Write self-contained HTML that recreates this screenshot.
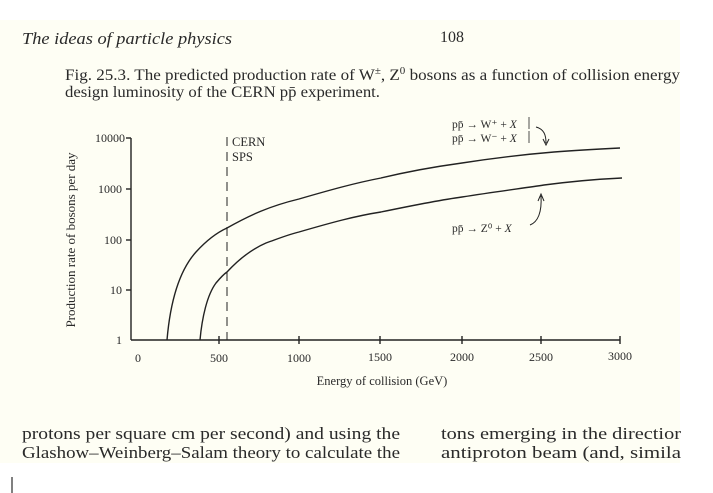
<!DOCTYPE html>
<html><head><meta charset="utf-8"><style>
html,body{margin:0;padding:0;background:#fff;}
svg{display:block;}
text{font-family:"Liberation Serif",serif;fill:#2a2a2a;}
</style></head><body>
<svg width="713" height="493" viewBox="0 0 713 493" xmlns="http://www.w3.org/2000/svg">
<rect x="0" y="20" width="680" height="443" fill="#fefef4"/>
<text x="22" y="44" font-size="16.5" font-style="italic" textLength="210" lengthAdjust="spacingAndGlyphs">The ideas of particle physics</text>
<text x="440" y="42" font-size="16">108</text>
<text x="65" y="80" font-size="15.5" textLength="615" lengthAdjust="spacingAndGlyphs">Fig. 25.3. The predicted production rate of W<tspan font-size="10" dy="-6">±</tspan><tspan dy="6">, Z</tspan><tspan font-size="10" dy="-6">0</tspan><tspan dy="6"> bosons as a function of collision energy</tspan></text>
<text x="65" y="97" font-size="15.5" textLength="315" lengthAdjust="spacingAndGlyphs">design luminosity of the CERN pp̄ experiment.</text>

<g stroke="#222" fill="none" stroke-width="1.4">
<line x1="131" y1="138" x2="131" y2="340"/>
<line x1="131" y1="340" x2="620" y2="340"/>
<line x1="126" y1="138" x2="131" y2="138"/>
<line x1="126" y1="189" x2="131" y2="189"/>
<line x1="126" y1="240" x2="131" y2="240"/>
<line x1="126" y1="290" x2="131" y2="290"/>
<line x1="219" y1="336" x2="219" y2="344"/>
<line x1="299" y1="336" x2="299" y2="344"/>
<line x1="380" y1="336" x2="380" y2="344"/>
<line x1="462" y1="336" x2="462" y2="344"/>
<line x1="541" y1="336" x2="541" y2="344"/>
<line x1="620" y1="336" x2="620" y2="344"/>
<line x1="227" y1="137" x2="227" y2="340" stroke-dasharray="9,6" stroke-width="1"/>
<path d="M167,340 C170,305 178,272 196,252 C206,241 216,233 227,228 C250,215 270,206 299,199 C330,190 355,183 381,178 C410,171 440,166 462,163 C500,157 530,154 554,152 C580,150 600,149 620,148"/>
<path d="M200,340 C202,318 207,295 216,283 C221,277 224,274 227,272 C240,258 252,249 266,243 C280,238 290,234 299,232 C330,223 355,216 381,212 C410,206 440,200 462,197 C500,191 525,188 544,185 C575,181 600,179 622,178"/>
<path d="M536,127 C544,129 546,135 546,143" stroke-width="1"/>
<path d="M543,139 L546,145 L549,139" stroke-width="1"/>
<path d="M530,225 C538,222 542,212 541,196" stroke-width="1"/>
<path d="M538,201 L541,194 L544,201" stroke-width="1"/>
<line x1="529" y1="117" x2="529" y2="129" stroke-width="0.8"/>
<line x1="529" y1="131" x2="529" y2="143" stroke-width="0.8"/>
</g>

<g font-size="12" text-anchor="end">
<text x="125" y="142">10000</text>
<text x="122" y="193">1000</text>
<text x="122" y="244">100</text>
<text x="122" y="294">10</text>
<text x="122" y="344">1</text>
</g>
<g font-size="12" text-anchor="middle">
<text x="138" y="362">0</text>
<text x="219" y="362">500</text>
<text x="299" y="362">1000</text>
<text x="380" y="361">1500</text>
<text x="462" y="361">2000</text>
<text x="541" y="361">2500</text>
<text x="620" y="360">3000</text>
</g>
<text x="382" y="385" font-size="12.5" text-anchor="middle">Energy of collision (GeV)</text>
<text transform="translate(75,240) rotate(-90)" font-size="13" text-anchor="middle">Production rate of bosons per day</text>
<text x="232" y="146" font-size="12.5">CERN</text>
<text x="232" y="161" font-size="12.5">SPS</text>
<text x="452" y="128" font-size="11.5">pp̄ → W⁺ + <tspan font-style="italic">X</tspan></text>
<text x="452" y="142" font-size="11.5">pp̄ → W⁻ + <tspan font-style="italic">X</tspan></text>
<text x="452" y="232" font-size="11.5">pp̄ → Z⁰ + <tspan font-style="italic">X</tspan></text>

<text x="22" y="439" font-size="16.5" textLength="378" lengthAdjust="spacingAndGlyphs">protons per square cm per second) and using the</text>
<text x="22" y="458" font-size="16.5" textLength="378" lengthAdjust="spacingAndGlyphs">Glashow–Weinberg–Salam theory to calculate the</text>
<text x="441" y="439" font-size="16.5" textLength="240" lengthAdjust="spacingAndGlyphs">tons emerging in the directior</text>
<text x="441" y="458" font-size="16.5" textLength="240" lengthAdjust="spacingAndGlyphs">antiproton beam (and, simila</text>
<line x1="12" y1="477" x2="12" y2="493" stroke="#000" stroke-width="1"/>
</svg>
</body></html>
